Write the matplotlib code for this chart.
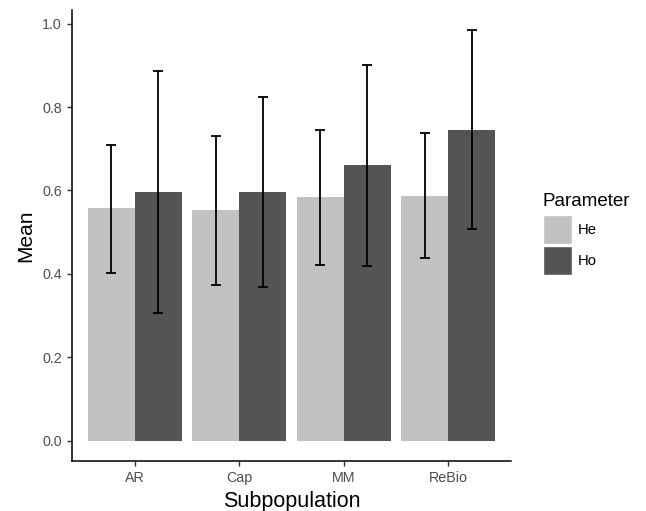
import matplotlib
matplotlib.use("Agg")
import matplotlib.pyplot as plt
import numpy as np
from matplotlib.patches import Patch

categories = ["AR", "Cap", "MM", "ReBio"]
params = ["He", "Ho"]
he_mean = [0.558, 0.553, 0.584, 0.587]
he_low = [0.402, 0.374, 0.420, 0.438]
he_high = [0.710, 0.730, 0.746, 0.737]
ho_mean = [0.596, 0.596, 0.661, 0.746]
ho_low = [0.305, 0.368, 0.418, 0.508]
ho_high = [0.887, 0.825, 0.902, 0.984]
yticks = [0.0, 0.2, 0.4, 0.6, 0.8, 1.0]

colors = {"He": "#c2c2c2", "Ho": "#545454"}

plt.rcParams['font.family'] = ['Liberation Sans', 'DejaVu Sans']

W, H = 646, 511
fig = plt.figure(figsize=(W/100, H/100), dpi=100)
ax = fig.add_axes([72/W, (H-461)/H, (511-72)/W, (461-10)/H])

x = np.arange(1, len(categories)+1)
bw = 0.45
series = [("He", he_mean, he_low, he_high, -bw/2), ("Ho", ho_mean, ho_low, ho_high, bw/2)]
for name, m, lo, hi, off in series:
    m = np.array(m); lo = np.array(lo); hi = np.array(hi)
    ax.bar(x + off, m, width=bw, color=colors[name], linewidth=0, zorder=2)
for name, m, lo, hi, off in series:
    m = np.array(m); lo = np.array(lo); hi = np.array(hi)
    ax.errorbar(x + off, m, yerr=[m - lo, hi - m], fmt='none', ecolor='black',
                elinewidth=1.3, capsize=3.9, capthick=1.3, zorder=3)

ax.set_xlim(0.4, 4.6)
ax.set_ylim(-0.0492, 1.0332)
ax.set_xticks(x)
ax.set_xticklabels(categories)
ax.set_yticks(yticks)
ax.set_yticklabels([f"{v:.1f}" for v in yticks])
for s in ["top", "right"]:
    ax.spines[s].set_visible(False)
for s in ["left", "bottom"]:
    ax.spines[s].set_linewidth(1.1)
    ax.spines[s].set_color("black")
ax.tick_params(axis='both', length=3.8, width=1.0, color='#333333',
               labelsize=10.3, labelcolor='#4d4d4d', pad=3.5)
ax.set_xlabel("Subpopulation", fontsize=15.5, labelpad=4)
ax.set_ylabel("Mean", fontsize=15, labelpad=5)

fig.text(543/W, 1 - 205.5/H, "Parameter", fontsize=13.5, ha='left', va='baseline')
handles = [Patch(facecolor=colors[p], edgecolor='white', linewidth=1.0) for p in params]
leg = fig.legend(handles, params, loc='upper left',
                 bbox_to_anchor=(542.5/W, 1 - 215.5/H), frameon=False,
                 fontsize=10.7, handlelength=1.97, handleheight=2.62,
                 handletextpad=0.38, labelspacing=0.1, borderaxespad=0, borderpad=0)

fig.savefig("out.png", dpi=100)
